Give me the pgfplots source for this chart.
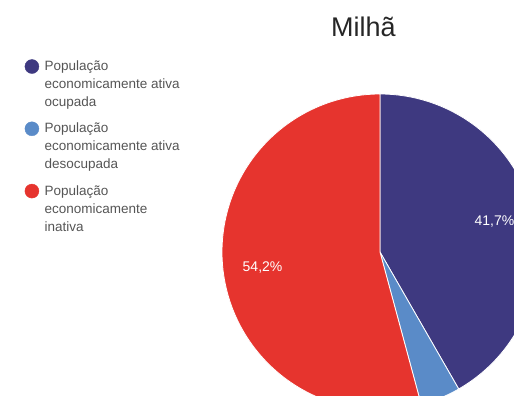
\documentclass[border=0pt]{standalone}
\usepackage{fontspec}
\setmainfont{Liberation Sans}
\usepackage{pgfplots}
\usepackage{pgfplotstable}
\pgfplotsset{compat=1.18}
\definecolor{cOcc}{RGB}{62,57,128}
\definecolor{cDes}{RGB}{90,139,200}
\definecolor{cIna}{RGB}{230,52,46}
\definecolor{legtext}{RGB}{85,85,85}

\pgfplotstableread{
grupo valor
ocupada 41.7
desocupada 4.1
inativa 54.2
}\piedata
\pgfplotstablegetelem{0}{valor}\of\piedata \let\vA\pgfplotsretval
\pgfplotstablegetelem{1}{valor}\of\piedata \let\vB\pgfplotsretval
\pgfplotstablegetelem{2}{valor}\of\piedata \let\vC\pgfplotsretval
\pgfmathsetmacro\aA{90}
\pgfmathsetmacro\aB{90-3.6*\vA}
\pgfmathsetmacro\aC{\aB-3.6*\vB}
\pgfmathsetmacro\aD{\aC-3.6*\vC}
\pgfmathsetmacro\mA{(\aA+\aB)/2}
\pgfmathsetmacro\mC{(\aC+\aD)/2}
\newcommand\cx{380}
\newcommand\cy{144}
\newcommand\R{158}

\begin{document}
\begin{tikzpicture}
\begin{axis}[
  at={(0,0)}, anchor=south west,
  scale only axis, width=514pt, height=396pt,
  xmin=0, xmax=514, ymin=0, ymax=396,
  hide axis,
  /pgf/number format/assume math mode=true,
  legend style={at={(axis description cs:0.0477,0.8518)}, anchor=north west,
    draw=none, fill=none, inner sep=0pt, row sep=11pt,
    font=\fontsize{13.5}{18}\selectfont, text=legtext,
    cells={anchor=west, align=left, inner sep=0pt},
    /tikz/every odd column/.append style={column sep=3.5pt}},
]
\addplot[forget plot, fill=cOcc, draw=white, line width=0.8pt, domain=\aB:\aA, samples=90, variable=\t]
  ({\cx+\R*cos(\t)},{\cy+\R*sin(\t)}) -- (axis cs:\cx,\cy) -- cycle;
\addplot[forget plot, fill=cDes, draw=white, line width=0.8pt, domain=\aC:\aB, samples=20, variable=\t]
  ({\cx+\R*cos(\t)},{\cy+\R*sin(\t)}) -- (axis cs:\cx,\cy) -- cycle;
\addplot[forget plot, fill=cIna, draw=white, line width=0.8pt, domain=\aD:\aC, samples=120, variable=\t]
  ({\cx+\R*cos(\t)},{\cy+\R*sin(\t)}) -- (axis cs:\cx,\cy) -- cycle;

\addlegendimage{legend image code/.code={\fill[cOcc] (7pt,18pt) circle[radius=7pt];}}
\addlegendentry{População\\economicamente ativa\\ocupada}
\addlegendimage{legend image code/.code={\fill[cDes] (7pt,18pt) circle[radius=7pt];}}
\addlegendentry{População\\economicamente ativa\\desocupada}
\addlegendimage{legend image code/.code={\fill[cIna] (7pt,18pt) circle[radius=7pt];}}
\addlegendentry{População\\economicamente\\inativa}

\node[text=white, font=\fontsize{14}{16}\selectfont] at (axis cs:{\cx+0.75*\R*cos(\mA)},{\cy+0.75*\R*sin(\mA)})
  {\pgfmathprintnumber[fixed,fixed zerofill,precision=1,use comma,assume math mode=true]{\vA}\%};
\node[text=white, font=\fontsize{14}{16}\selectfont] at (axis cs:{\cx+0.75*\R*cos(\mC)},{\cy+0.75*\R*sin(\mC)})
  {\pgfmathprintnumber[fixed,fixed zerofill,precision=1,use comma,assume math mode=true]{\vC}\%};
\node[anchor=base, text=black!85, font=\fontsize{27}{32}\selectfont] at (axis cs:363.5,359) {Milhã};
\end{axis}
\pgfresetboundingbox
\path[use as bounding box] (0,0) rectangle (514pt,396pt);
\end{tikzpicture}
\end{document}
